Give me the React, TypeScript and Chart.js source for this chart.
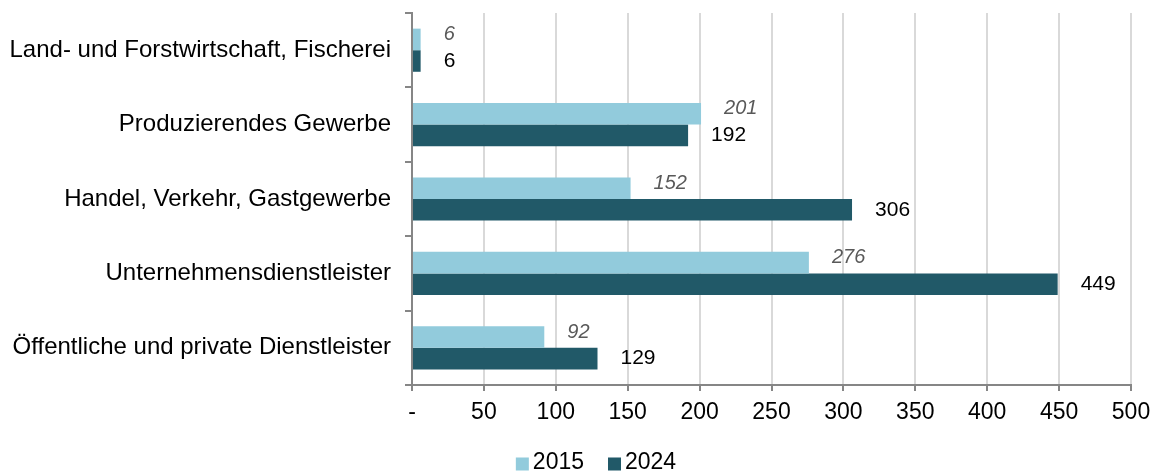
import React, { useEffect, useRef } from "react";
import { Chart, registerables } from "chart.js";

Chart.register(...registerables);

const categories = [
  "Land- und Forstwirtschaft, Fischerei",
  "Produzierendes Gewerbe",
  "Handel, Verkehr, Gastgewerbe",
  "Unternehmensdienstleister",
  "Öffentliche und private Dienstleister",
];
const values2015 = [6, 201, 152, 276, 92];
const values2024 = [6, 192, 306, 449, 129];
const seriesLabels = ["2015", "2024"];
const seriesColors = ["#92CBDC", "#215968"];

const FONT = "'Liberation Sans', Arial, sans-serif";

const dataLabelPlugin = {
  id: "dataLabels",
  afterDatasetsDraw(chart: any) {
    const ctx = chart.ctx;
    chart.data.datasets.forEach((ds: any, i: number) => {
      const meta = chart.getDatasetMeta(i);
      meta.data.forEach((el: any, j: number) => {
        ctx.save();
        ctx.font = i === 0 ? "italic 20px " + FONT : "21px " + FONT;
        ctx.fillStyle = i === 0 ? "#595959" : "#000000";
        ctx.textAlign = "left";
        ctx.textBaseline = "middle";
        ctx.fillText(String(ds.data[j]), el.x + 23, el.y + (i === 0 ? -5 : 0));
        ctx.restore();
      });
    });
  },
};

const customLegendPlugin = {
  id: "customLegend",
  afterDraw(chart: any) {
    const ctx = chart.ctx;
    ctx.save();
    ctx.font = "23px " + FONT;
    const box = 13;
    const gap = 4;
    const spacing = 24;
    const items = chart.data.datasets.map((ds: any) => ({
      text: ds.label,
      color: ds.backgroundColor,
      w: ctx.measureText(ds.label).width,
    }));
    const total = items.reduce((s: number, it: any) => s + box + gap + it.w, 0) + spacing * (items.length - 1);
    let x = chart.width / 2 + 19 - total / 2;
    const y = chart.height - 11;
    items.forEach((it: any) => {
      ctx.fillStyle = it.color;
      ctx.fillRect(x, y - box / 2 + 1, box, box);
      x += box + gap;
      ctx.fillStyle = "#000";
      ctx.textAlign = "left";
      ctx.textBaseline = "middle";
      ctx.fillText(it.text, x, y);
      x += it.w + spacing;
    });
    ctx.restore();
  },
};

export default function App() {
  const ref = useRef<HTMLCanvasElement>(null);
  useEffect(() => {
    if (!ref.current) return;
    const chart = new Chart(ref.current, {
      type: "bar",
      data: {
        labels: categories,
        datasets: [
          {
            label: seriesLabels[0],
            data: values2015,
            backgroundColor: seriesColors[0],
            barPercentage: 1,
            categoryPercentage: 0.58,
          },
          {
            label: seriesLabels[1],
            data: values2024,
            backgroundColor: seriesColors[1],
            barPercentage: 1,
            categoryPercentage: 0.58,
          },
        ],
      },
      options: {
        indexAxis: "y",
        responsive: false,
        animation: false,
        layout: { padding: { left: 0, right: 23, top: 13, bottom: 49 } },
        scales: {
          x: {
            min: 0,
            max: 500,
            ticks: {
              stepSize: 50,
              color: "#000",
              font: { family: FONT, size: 23 },
              padding: 8,
              maxRotation: 0,
              callback: (v: any) => (v === 0 ? "-" : String(v)),
            },
            grid: {
              color: "#D9D9D9",
              lineWidth: 2,
              tickColor: "#868686",
              tickLength: 6,
              drawTicks: true,
            },
            border: { color: "#868686", width: 2 },
            afterFit: (scale: any) => {
              scale.height = 40;
              scale.paddingLeft = 0;
              scale.paddingRight = 0;
            },
          },
          y: {
            ticks: {
              color: "#000",
              font: { family: FONT, size: 24 },
              padding: 14,
            },
            grid: {
              offset: true,
              drawOnChartArea: false,
              drawTicks: true,
              tickLength: 7,
              tickColor: "#868686",
              lineWidth: 2,
            },
            border: { color: "#868686", width: 2 },
            afterFit: (scale: any) => {
              scale.width = 412;
              scale.paddingTop = 0;
              scale.paddingBottom = 0;
            },
          },
        },
        plugins: {
          legend: { display: false },
          tooltip: { enabled: false },
        },
      },
      plugins: [dataLabelPlugin, customLegendPlugin],
    });
    return () => chart.destroy();
  }, []);
  return (
    <div style={{ position: "fixed", left: 0, top: 0, width: 1154, height: 474, background: "#fff" }}>
      <canvas ref={ref} width={1154} height={474} />
    </div>
  );
}
